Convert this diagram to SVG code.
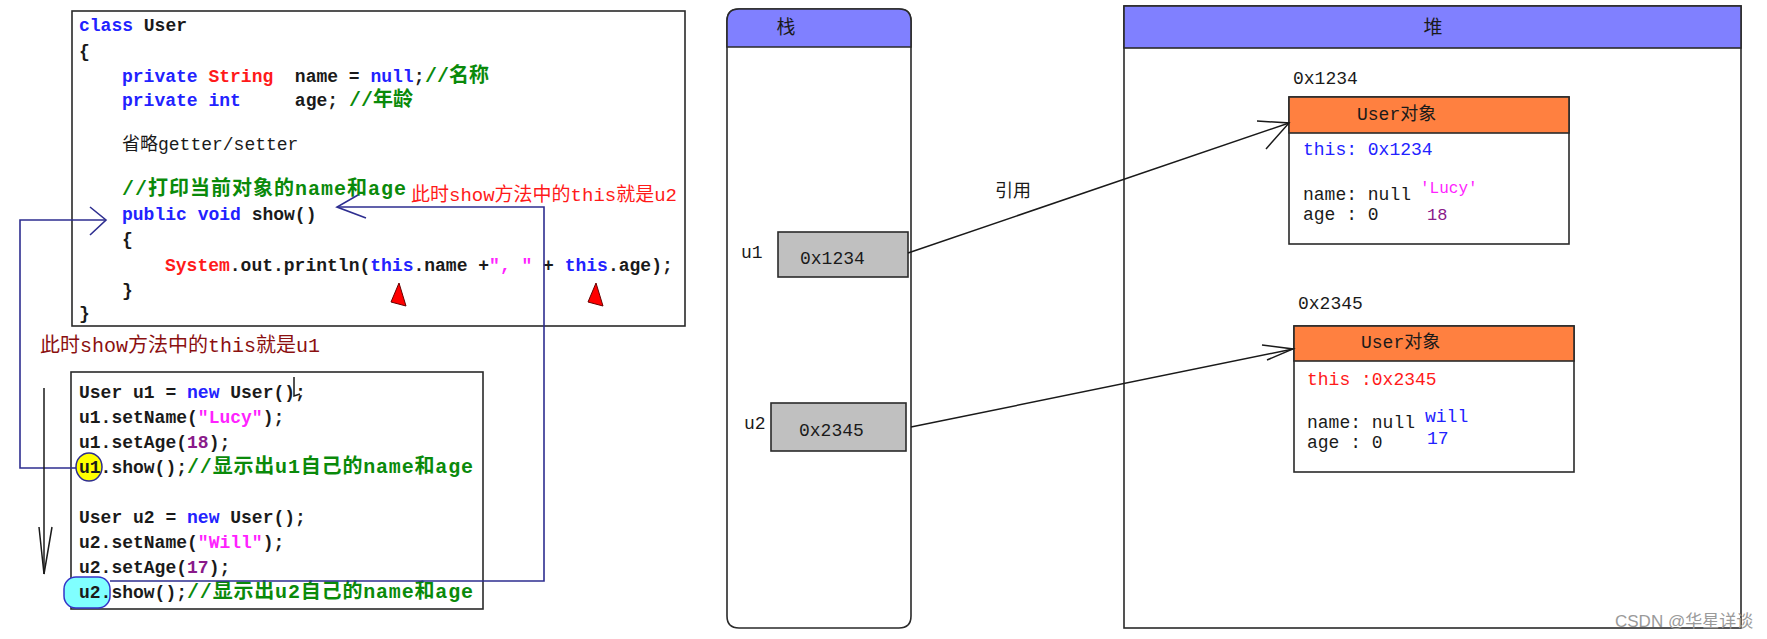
<svg xmlns="http://www.w3.org/2000/svg" width="1767" height="639" viewBox="0 0 1767 639">
<style>
.box{fill:#fff;stroke:#2a2a2a;stroke-width:1.6}
.code{font-family:"Liberation Mono","Noto Sans CJK SC",monospace;font-size:18px;font-weight:bold;fill:#1a1a1a}
.reg{font-family:"Liberation Mono","Noto Sans CJK SC",monospace;font-size:18px;fill:#1a1a1a}
.kw{fill:#2222ff}
.ty{fill:#ff1a1a}
.cm{font-family:"Liberation Mono","Noto Sans CJK SC",monospace;font-weight:bold;fill:#0a8a0a;font-size:20px}
.st{fill:#ff22ff}
.nu{fill:#8a1a8a}
.ann{font-family:"Liberation Mono","Noto Sans CJK SC",monospace;font-size:19px}
.hdr{fill:#8080ff;stroke:#2a2a2a;stroke-width:1.6}
.org{fill:#ff8040;stroke:#2a2a2a;stroke-width:1.6}
.gray{fill:#c0c0c0;stroke:#2a2a2a;stroke-width:1.6}
.cjk{font-family:"Noto Sans CJK SC",sans-serif;font-size:19px;fill:#1a1a1a}
.blue{fill:none;stroke:#2e2e90;stroke-width:1.6}
.blk{fill:none;stroke:#1a1a1a;stroke-width:1.5}
</style>

<g id="class-code">
<rect class="box" x="72" y="11" width="613" height="315"/>
<text class="code" x="79" y="31"><tspan class="kw">class</tspan> User</text>
<text class="code" x="79" y="57">{</text>
<text class="code" x="122" y="82" xml:space="preserve"><tspan class="kw">private</tspan> <tspan class="ty">String</tspan>  name = <tspan class="kw">null</tspan>;</text>
<text class="cm" x="425" y="82">//名称</text>
<text class="code" x="122" y="106" xml:space="preserve"><tspan class="kw">private</tspan> <tspan class="kw">int</tspan>     age;</text>
<text class="cm" x="349" y="106">//年龄</text>
<text class="reg" x="122" y="150">省略getter/setter</text>
<text class="cm" x="122" y="195" textLength="284" lengthAdjust="spacing">//打印当前对象的name和age</text>
<text class="code" x="122" y="220"><tspan class="kw">public</tspan> <tspan class="kw">void</tspan> show()</text>
<text class="code" x="122" y="245">{</text>
<text class="code" x="165" y="271" xml:space="preserve"><tspan class="ty">System</tspan>.out.println(<tspan class="kw">this</tspan>.name +<tspan class="st">", "</tspan> + <tspan class="kw">this</tspan>.age);</text>
<text class="code" x="122" y="296">}</text>
<text class="code" x="79" y="319">}</text>
<path d="M399,283 L391,302 L406,306 Z" fill="#ff0000" stroke="#600" stroke-width="1"/>
<path d="M596,283 L588,302 L603,306 Z" fill="#ff0000" stroke="#600" stroke-width="1"/>
</g>

<g id="note-u2">
<text class="ann" x="411" y="201" style="fill:#ff1a1a">此时show方法中的this就是u2</text>
</g>

<g id="note-u1">
<text class="ann" x="40" y="352" style="fill:#8b1010;font-size:20px">此时show方法中的this就是u1</text>
</g>

<g id="main-code">
<rect class="box" x="71" y="372" width="412" height="237"/>
<ellipse cx="89" cy="467" rx="13" ry="14" fill="#ffff00" stroke="#2e2e90" stroke-width="1.5"/>
<rect x="64" y="577" width="46" height="31" rx="12" fill="#80ffff" stroke="#3535c8" stroke-width="1.5"/>
<text class="code" x="79" y="398">User u1 = <tspan class="kw">new</tspan> User();</text>
<text class="code" x="79" y="423">u1.setName(<tspan class="st">"Lucy"</tspan>);</text>
<text class="code" x="79" y="448">u1.setAge(<tspan class="nu">18</tspan>);</text>
<text class="code" x="79" y="473">u1.show();</text>
<text class="cm" x="187" y="473" textLength="286" lengthAdjust="spacing">//显示出u1自己的name和age</text>
<text class="code" x="79" y="523">User u2 = <tspan class="kw">new</tspan> User();</text>
<text class="code" x="79" y="548">u2.setName(<tspan class="st">"Will"</tspan>);</text>
<text class="code" x="79" y="573">u2.setAge(<tspan class="nu">17</tspan>);</text>
<text class="code" x="79" y="598">u2.show();</text>
<text class="cm" x="187" y="598" textLength="286" lengthAdjust="spacing">//显示出u2自己的name和age</text>
<path class="blk" d="M294,377 V396 L300,394"/>
</g>

<g id="stack">
<path class="box" d="M739,9 H899 Q911,9 911,21 V616 Q911,628 899,628 H739 Q727,628 727,616 V21 Q727,9 739,9 Z"/>
<path class="hdr" d="M727,47 V21 Q727,9 739,9 H899 Q911,9 911,21 V47 Z"/>
<text class="cjk" x="786" y="34" text-anchor="middle">栈</text>
<text class="reg" x="741" y="258">u1</text>
<rect class="gray" x="778" y="232" width="130" height="45"/>
<text class="reg" x="800" y="264">0x1234</text>
<text class="reg" x="744" y="429">u2</text>
<rect class="gray" x="771" y="403" width="135" height="48"/>
<text class="reg" x="799" y="436">0x2345</text>
</g>

<g id="heap">
<rect class="box" x="1124" y="6" width="617" height="622"/>
<rect class="hdr" x="1124" y="6" width="617" height="42"/>
<text class="cjk" x="1433" y="34" text-anchor="middle">堆</text>
</g>

<g id="user-obj-1">
<text class="reg" x="1293" y="84">0x1234</text>
<rect class="box" x="1289" y="97" width="280" height="147"/>
<rect class="org" x="1289" y="97" width="280" height="36"/>
<text class="reg" x="1357" y="120">User对象</text>
<text class="reg" x="1303" y="155" style="fill:#2222ff">this: 0x1234</text>
<text class="reg" x="1303" y="200">name: null</text>
<text class="reg" x="1303" y="220">age : 0</text>
<text class="reg" x="1420" y="193" style="fill:#ff22ff;font-size:16px">'Lucy'</text>
<text class="reg" x="1427" y="220" style="fill:#8a1a8a;font-size:17px">18</text>
</g>

<g id="user-obj-2">
<text class="reg" x="1298" y="309">0x2345</text>
<rect class="box" x="1294" y="326" width="280" height="146"/>
<rect class="org" x="1294" y="326" width="280" height="35"/>
<text class="reg" x="1361" y="348">User对象</text>
<text class="reg" x="1307" y="385" style="fill:#ff1a1a">this :0x2345</text>
<text class="reg" x="1307" y="428">name: null</text>
<text class="reg" x="1307" y="448">age : 0</text>
<text class="reg" x="1425" y="422" style="fill:#2222ff">will</text>
<text class="reg" x="1427" y="444" style="fill:#2222ff">17</text>
</g>

<g id="label-ref">
<text class="cjk" x="1013" y="197" text-anchor="middle" style="font-size:18px">引用</text>
</g>

<g id="connectors">
<path class="blue" d="M76,468 H20 V220 H106"/>
<path class="blue" d="M90,207 L106,220 L90,235"/>
<path class="blue" d="M110,581 H544 V207 H337"/>
<path class="blue" d="M358,195 L337,207 L366,218"/>
<path class="blk" d="M44,388 V574"/>
<path class="blk" d="M39,527 L44,574 L52,527"/>
<path class="blk" d="M908,253 L1289,123"/>
<path class="blk" d="M1257,121 L1289,123 L1266,149"/>
<path class="blk" d="M911,427 L1293,349"/>
<path class="blk" d="M1262,345 L1293,349 L1267,360"/>
</g>

<text x="1615" y="627" font-family="Liberation Sans, Noto Sans CJK SC, sans-serif" font-size="17" fill="#9a9a9a">CSDN @华星详谈</text>
</svg>
